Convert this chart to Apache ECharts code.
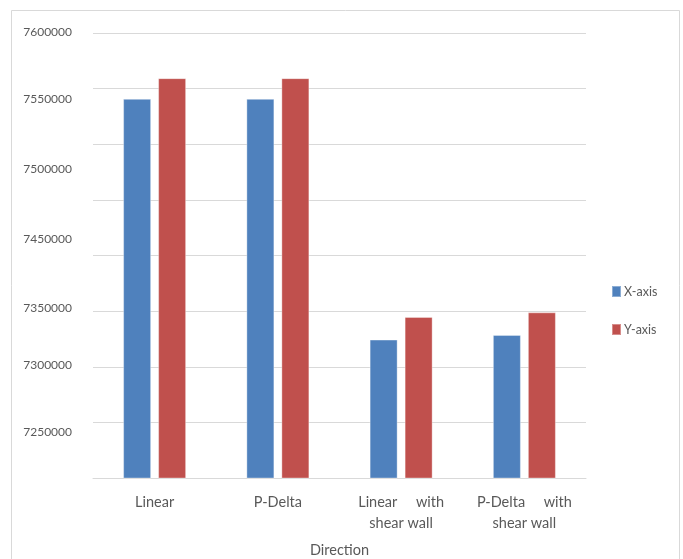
<!DOCTYPE html>
<html>
<head>
<meta charset="utf-8">
<script src="https://cdn.jsdelivr.net/npm/echarts@6/dist/echarts.min.js"></script>
<style>
  html, body { margin: 0; padding: 0; background: #fff; }
  #chart { width: 683px; height: 559px; }
</style>
</head>
<body>
<div id="chart"></div>
<script>
// Analysis cases along the category axis
const categories = ['Linear', 'P-Delta', 'Linear     with\nshear wall', 'P-Delta     with\nshear wall'];

// Values per direction
const xAxisValues = [7540800, 7540800, 7324400, 7328600];
const yAxisValues = [7559400, 7559400, 7344800, 7348900];

// Value-axis labels that are printed
const tickLabels = [7600000, 7550000, 7500000, 7450000, 7350000, 7300000, 7250000];

// Vertical nudge (px) of each printed tick label
const labelShift = { 7600000: -1, 7550000: 10, 7500000: 25, 7450000: 39, 7350000: -3, 7300000: -2, 7250000: 10 };

const FONT = 'Lato';
const TXT = '#595959';

const rich = {};
tickLabels.forEach(v => {
  const s = labelShift[v] || 0;
  rich['t' + v] = {
    fontFamily: FONT, fontSize: 12, color: TXT,
    padding: s >= 0 ? [2 * s, 0, 0, 0] : [0, 0, -2 * s, 0]
  };
});

const chart = echarts.init(document.getElementById('chart'));
chart.setOption({
  animation: false,
  backgroundColor: '#fff',
  textStyle: { fontFamily: FONT },
  graphic: [{
    type: 'rect',
    shape: { x: 11.5, y: 10.5, width: 668, height: 560 },
    style: { fill: 'none', stroke: '#D9D9D9', lineWidth: 1 },
    silent: true
  }],
  grid: { left: 93, right: 97, top: 33, bottom: 81, outerBoundsMode: 'none', containLabel: false },
  legend: {
    orient: 'vertical',
    left: 611, top: 285, padding: 0,
    itemWidth: 9, itemHeight: 11, itemGap: 25,
    icon: 'rect',
    textStyle: { fontFamily: FONT, fontSize: 12.5, color: TXT, padding: [0, 0, 0, -2] },
    data: ['X-axis', 'Y-axis']
  },
  xAxis: {
    type: 'category',
    data: categories,
    name: 'Direction',
    nameLocation: 'middle',
    nameGap: 65,
    nameTextStyle: { fontFamily: FONT, fontSize: 14.5, color: TXT },
    axisLine: { lineStyle: { color: '#D9D9D9', width: 1 } },
    axisTick: { show: false },
    axisLabel: { fontFamily: FONT, fontSize: 14.5, color: TXT, margin: 14, lineHeight: 21, interval: 0 }
  },
  yAxis: {
    type: 'value',
    min: 7200000, max: 7600000, interval: 50000,
    axisLine: { show: false },
    axisTick: { show: false },
    splitLine: { lineStyle: { color: '#D9D9D9', width: 1 } },
    axisLabel: {
      margin: 21,
      formatter: v => tickLabels.indexOf(v) >= 0 ? '{t' + v + '|' + v + '}' : '',
      rich: rich
    }
  },
  series: [
    {
      name: 'X-axis', type: 'bar', data: xAxisValues,
      barWidth: 28, barGap: '25%',
      itemStyle: { color: '#4F81BD', borderColor: 'rgba(255,255,255,0.35)', borderWidth: 1 }
    },
    {
      name: 'Y-axis', type: 'bar', data: yAxisValues,
      barWidth: 28,
      itemStyle: { color: '#C0504D', borderColor: 'rgba(255,255,255,0.35)', borderWidth: 1 }
    }
  ]
});
</script>
</body>
</html>
